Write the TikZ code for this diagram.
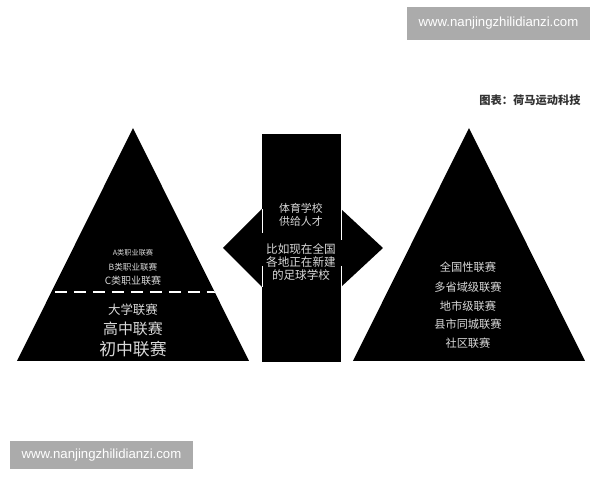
\documentclass[tikz,border=0pt]{standalone}
\usepackage{fontspec}
\setmainfont{Liberation Sans}
\newfontfamily\cjk{Noto Sans CJK SC}

\tikzset{
  intext/.style={text=white!85!black, inner sep=0pt, font=\cjk},
  wmark/.style={fill=black!33, text=white, inner sep=0pt, font=\fontsize{7.5}{9}\selectfont},
}

\begin{document}
\begin{tikzpicture}[x=0.02cm,y=-0.02cm]
\useasboundingbox[fill=white] (0,0) rectangle (600,480);

\node[wmark, minimum width=3.66cm, minimum height=0.66cm] (marktop) at (498.5,23.5) {www.nanjingzhilidianzi.com};
\node[wmark, minimum width=3.66cm, minimum height=0.56cm] (markbot) at (101.5,455) {www.nanjingzhilidianzi.com};
\node[text=black!80, inner sep=0pt, font=\cjk\bfseries\fontsize{6.4}{8}\selectfont] (source) at (530,100) {图表：荷马运动科技};

\fill (17,361) -- (133,128) -- (249,361) -- cycle;
\fill (353,361) -- (469,128) -- (585,361) -- cycle;
\fill (223,248) -- (262,209) -- (262,287) -- cycle;
\fill (383,248) -- (341,209) -- (341,287) -- cycle;
\fill (262,134) rectangle (341,362);
\draw[white, line width=0.5pt] (262,209) -- (262,233) (262,266) -- (262,287);
\draw[white, line width=0.5pt] (341,209) -- (341,240) (341,266) -- (341,287);

\begin{scope}
\clip (17,361) -- (133,128) -- (249,361) -- cycle;
\draw[white, line width=1.1pt, dash pattern=on 6.8pt off 4pt] (17,292) -- (249,292);
\end{scope}

\node[intext, font=\cjk\fontsize{4.1}{5}\selectfont] (proA) at (133,253) {A类职业联赛};
\node[intext, font=\cjk\fontsize{4.9}{6}\selectfont] (proB) at (133,267) {B类职业联赛};
\node[intext, font=\cjk\fontsize{5.7}{7}\selectfont] (proC) at (133,281) {C类职业联赛};
\node[intext, font=\cjk\fontsize{7.1}{8}\selectfont] (uni) at (133,310) {大学联赛};
\node[intext, font=\cjk\fontsize{8.5}{10}\selectfont] (high) at (133,329) {高中联赛};
\node[intext, font=\cjk\fontsize{9.6}{11}\selectfont] (junior) at (133,349) {初中联赛};

\node[intext, font=\cjk\fontsize{6.2}{7.6}\selectfont, align=center] (school) at (301,215) {体育学校\\供给人才};
\node[intext, font=\cjk\fontsize{6.6}{7.6}\selectfont, align=center] (example) at (301,262) {比如现在全国\\各地正在新建\\的足球学校};

\node[intext, font=\cjk\fontsize{6.4}{8}\selectfont] (nation) at (468,267) {全国性联赛};
\node[intext, font=\cjk\fontsize{6.4}{8}\selectfont] (province) at (468,287) {多省域级联赛};
\node[intext, font=\cjk\fontsize{6.4}{8}\selectfont] (city) at (468,306) {地市级联赛};
\node[intext, font=\cjk\fontsize{6.4}{8}\selectfont] (county) at (468,324) {县市同城联赛};
\node[intext, font=\cjk\fontsize{6.4}{8}\selectfont] (community) at (468,343) {社区联赛};

\end{tikzpicture}
\end{document}
